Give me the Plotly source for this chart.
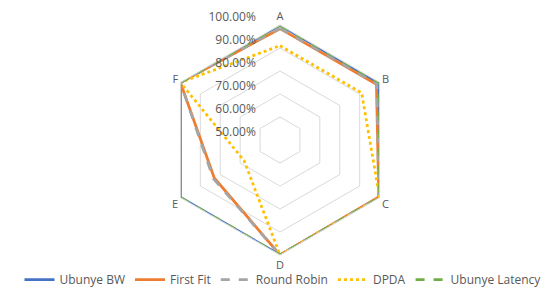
import plotly.graph_objects as go

categories = ["A", "B", "C", "D", "E", "F"]
ubunye_bw = [100.0, 99.6, 100.0, 100.0, 100.0, 100.0]
first_fit = [98.4, 98.4, 99.6, 100.0, 83.0, 100.0]
round_robin = [98.6, 98.7, 99.6, 100.0, 83.5, 100.0]
dpda = [91.0, 91.0, 100.0, 100.0, 68.0, 100.0]
ubunye_latency = [100.0, 100.0, 100.0, 100.0, 100.0, 100.0]
tick_vals = [50, 60, 70, 80, 90, 100]
tick_text = ["50.00%", "60.00%", "70.00%", "80.00%", "90.00%", "100.00%"]

series = [
    ("Ubunye BW", ubunye_bw, "#4472C4", "solid"),
    ("First Fit", first_fit, "#ED7D31", "solid"),
    ("Round Robin", round_robin, "#A5A5A5", "dash"),
    ("DPDA", dpda, "#FFC000", "dot"),
    ("Ubunye Latency", ubunye_latency, "#70AD47", "dash"),
]

fig = go.Figure()
for name, vals, color, dash in series:
    fig.add_trace(go.Scatterpolar(
        r=vals + vals[:1],
        theta=categories + categories[:1],
        mode="lines",
        name=name,
        line=dict(color=color, width=2.75, dash=dash),
    ))

H = 288
W = 550
cx, cy, rad = 272, 132, 115
fig.update_layout(
    width=W, height=H,
    margin=dict(l=0, r=0, t=0, b=0),
    paper_bgcolor="white",
    plot_bgcolor="white",
    font=dict(family="Open Sans", color="#595959", size=11),
    polar=dict(
        domain=dict(x=[(cx - rad) / W, (cx + rad) / W],
                    y=[1 - (cy + rad) / H, 1 - (cy - rad) / H]),
        bgcolor="white",
        gridshape="linear",
        radialaxis=dict(
            range=[50, 100],
            tickvals=tick_vals,
            ticktext=[t + "\u00a0" * 7 + "<br><span style='font-size:6px'> </span>" for t in tick_text],
            angle=90,
            tickangle=90,
            side="counterclockwise",
            showline=False,
            ticks="",
            gridcolor="#D9D9D9",
            gridwidth=1,
            tickfont=dict(size=12, color="#595959"),
        ),
        angularaxis=dict(
            rotation=90,
            direction="clockwise",
            showgrid=False,
            showline=True,
            linecolor="#D9D9D9",
            linewidth=1,
            ticks="",
            tickfont=dict(size=11, color="#595959"),
        ),
    ),
    legend=dict(
        orientation="h",
        x=0.5, xanchor="center",
        y=1 - 257 / H, yanchor="top",
        bgcolor="rgba(0,0,0,0)",
        font=dict(size=12, color="#595959"),
        itemwidth=30,
        tracegroupgap=0,
    ),
)

fig.write_html("out.html")
